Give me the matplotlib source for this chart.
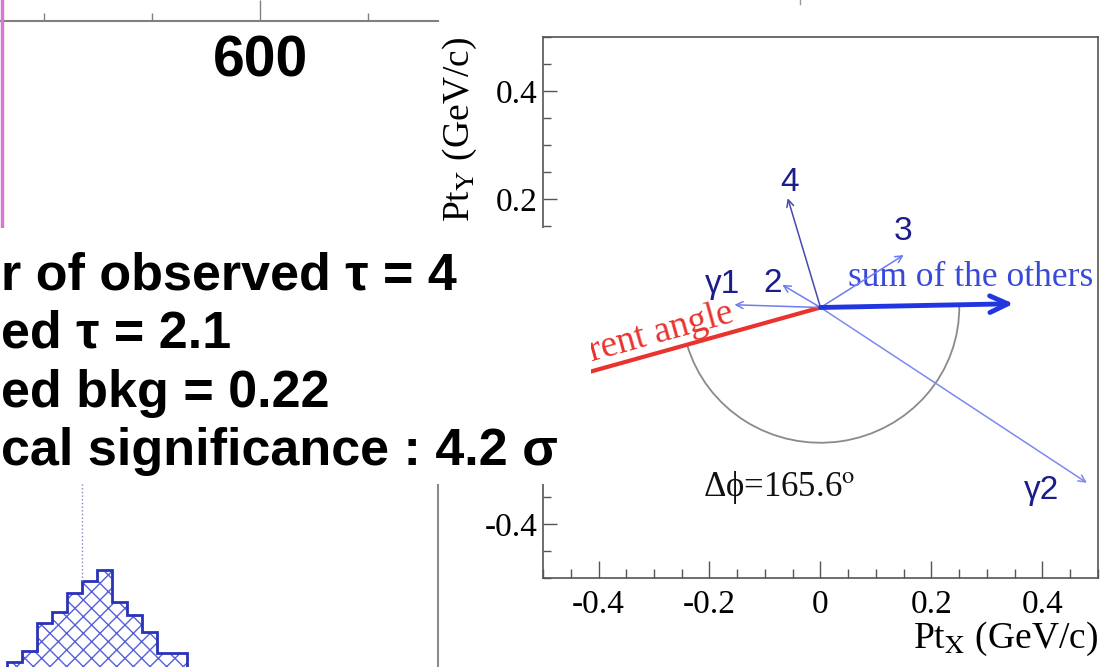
import numpy as np
import matplotlib
matplotlib.use("Agg")
import matplotlib.pyplot as plt
from matplotlib.patches import Rectangle, Arc
from matplotlib.lines import Line2D
from matplotlib.ticker import MultipleLocator, FuncFormatter

W, H = 1103, 667

plt.rcParams['axes.unicode_minus'] = False
plt.rcParams['mathtext.fontset'] = 'stix'
plt.rcParams['hatch.linewidth'] = 1.0

# top-left axis fragment (only the bottom axis line is in view)
TOP_AXIS_RANGE = (479.6, 682.4)

# text block
STAT_LINES = ["r of observed \u03c4 = 4",
              "ed \u03c4 = 2.1",
              "ed bkg = 0.22",
              "cal significance : 4.2 \u03c3"]

# bottom-left histogram fragment
HIST_EDGES = [0, 1, 2, 3, 4, 5, 6, 7, 8, 9, 10, 11, 12]
HIST_COUNTS = [5, 16, 44, 55, 74, 86, 97, 65, 52, 35, 14, 14]
HIST_MARKER = 5

# event display, transverse momenta in GeV/c
TRACK_NAMES = ["\u03b31", "2", "4", "3", "\u03b32"]
TRACK_PX = [-0.155, -0.069, -0.059, 0.150, 0.480]
TRACK_PY = [0.005, 0.042, 0.202, 0.097, -0.324]
SUM_OTHERS = (0.348, 0.007)
MISSING = (-0.50, -0.143)
DPHI = 165.6
ARC_R = 0.25
# tick values whose labels are not hidden under the text block
Y_LABELLED = [0.4, 0.2, -0.4]

# where the track names sit (data coords)
NAME_X = [-0.177, -0.086, -0.055, 0.149, 0.399]
NAME_Y = [0.043, 0.045, 0.231, 0.140, -0.339]


def fx(px):
    return px / W


def fy(py):
    return 1 - py / H


fig = plt.figure(figsize=(W / 100, H / 100), dpi=100)

# ---- top-left axis fragment
ax1 = fig.add_axes([0, fy(21), fx(438), 0.6])
ax1.set_xlim(*TOP_AXIS_RANGE)
ax1.set_ylim(0, 1)
for s in ["top", "left", "right"]:
    ax1.spines[s].set_visible(False)
ax1.spines["bottom"].set_color("#808080")
ax1.spines["bottom"].set_linewidth(1.5)
ax1.xaxis.set_major_locator(MultipleLocator(200))
ax1.xaxis.set_minor_locator(MultipleLocator(50))
ax1.set_yticks([])
ax1.tick_params(axis="x", which="major", direction="in", length=15, width=1,
                color="#808080", pad=10, labelsize=41)
ax1.tick_params(axis="x", which="minor", direction="in", length=6, width=1,
                color="#808080")
for lab in ax1.get_xticklabels():
    lab.set_fontfamily("Liberation Sans")
    lab.set_fontweight("bold")

# pink line on the left edge and a stray tick at the top
fig.add_artist(Line2D([fx(1.5), fx(1.5)], [1, fy(240)], transform=fig.transFigure,
                      color="#d47ad4", lw=2.5, zorder=1))
fig.add_artist(Line2D([fx(800), fx(800)], [1, fy(4)], transform=fig.transFigure,
                      color="#999999", lw=1, zorder=1))

# ---- event display
ax = fig.add_axes([fx(543), fy(578), fx(1098) - fx(543), fy(37) - fy(578)])
ax.set_xlim(-0.5, 0.5)
ax.set_ylim(-0.5, 0.5)
for s in ax.spines.values():
    s.set_color("#555555")
    s.set_linewidth(1.2)
ax.xaxis.set_major_locator(MultipleLocator(0.2))
ax.xaxis.set_minor_locator(MultipleLocator(0.05))
ax.yaxis.set_major_locator(MultipleLocator(0.2))
ax.yaxis.set_minor_locator(MultipleLocator(0.05))
ax.xaxis.set_major_formatter(FuncFormatter(lambda v, p: "%g" % round(v, 3)))
ax.yaxis.set_major_formatter(FuncFormatter(
    lambda v, p: "%g" % round(v, 3) if any(abs(v - t) < 1e-6 for t in Y_LABELLED) else ""))
ax.tick_params(which="both", direction="in", color="#555555", width=1,
               top=False, right=False, labelsize=24)
ax.tick_params(axis="x", which="major", length=12, pad=8)
ax.tick_params(axis="x", which="minor", length=6.5)
ax.tick_params(axis="y", which="major", length=10, pad=4)
ax.tick_params(axis="y", which="minor", length=6)
for lab in ax.get_xticklabels() + ax.get_yticklabels():
    lab.set_fontfamily("Liberation Serif")

ax.set_xlabel(r"Pt$_{\rm X}$ (GeV/c)", loc="right", fontsize=27,
              family="Liberation Serif", labelpad=0)
ax.set_ylabel(r"Pt$_{\rm Y}$ (GeV/c)", loc="top", fontsize=27,
              family="Liberation Serif", labelpad=4)

# missing-pt direction
ax.plot([0, MISSING[0]], [0, MISSING[1]], color="#e8332f", lw=3, zorder=3)
ax.text(-0.154, -0.026, "rent angle", color="#e8332f", fontsize=27,
        family="Liberation Serif", rotation=15.5, rotation_mode="anchor",
        ha="right", va="baseline", zorder=3)

# delta-phi arc
th1 = np.degrees(np.arctan2(MISSING[1], MISSING[0])) % 360
th2 = 360 + np.degrees(np.arctan2(SUM_OTHERS[1], SUM_OTHERS[0]))
ax.add_patch(Arc((0, 0), 2 * ARC_R, 2 * ARC_R, theta1=th1, theta2=th2,
                 color="#8a8a8a", lw=1.3, zorder=2))
ax.text(-0.212, -0.332, "\u0394\u03d5=%.1f$^{\\rm o}$" % DPHI, fontsize=25,
        family=["Liberation Serif", "DejaVu Serif"], ha="left", va="center",
        color="#111111")

# tracks
arrow_cols = ["#6f7cf0", "#6f7cf0", "#4848b0", "#6f7cf0", "#7f88f0"]
for i in range(len(TRACK_NAMES)):
    ax.annotate("", xy=(TRACK_PX[i], TRACK_PY[i]), xytext=(0, 0),
                arrowprops=dict(arrowstyle="->,head_length=0.5,head_width=0.25",
                                color=arrow_cols[i], lw=1.1,
                                shrinkA=0, shrinkB=0), zorder=4)
    ax.text(NAME_X[i], NAME_Y[i], TRACK_NAMES[i], color="#1c1c8a",
            fontsize=24, family="Liberation Sans", ha="center", va="center")

ax.annotate("", xy=SUM_OTHERS, xytext=(0, 0),
            arrowprops=dict(arrowstyle="->,head_length=1.3,head_width=0.6",
                            color="#2236e0", lw=3.5, shrinkA=0, shrinkB=0),
            zorder=5)
ax.text(0.05, 0.055, "sum of the others", color="#3a4ad8", fontsize=25.5,
        family="Liberation Serif", ha="left", va="center", clip_on=False)

# ---- bottom-left histogram fragment
ax3 = fig.add_axes([0, 0, fx(438), fy(470)])
ax3.set_xlim(-7 / 15, 431 / 15)
ax3.set_ylim(0, 197)
for s in ["top", "left", "bottom"]:
    ax3.spines[s].set_visible(False)
ax3.spines["right"].set_color("#8c8c8c")
ax3.spines["right"].set_linewidth(1.5)
ax3.set_xticks([])
ax3.set_yticks([])
ax3.stairs(HIST_COUNTS, HIST_EDGES, fill=True, hatch="xx", facecolor="white",
           edgecolor="#5560d8", lw=0)
ax3.stairs(HIST_COUNTS, HIST_EDGES, baseline=0, color="#2a32b8", lw=2)
ax3.vlines(HIST_EDGES[HIST_MARKER], HIST_COUNTS[HIST_MARKER], 197,
           colors="#8088c8", linestyles=":", lw=1)

# ---- white text box on top
fig.add_artist(Rectangle((0, fy(484)), fx(591), fy(228) - fy(484),
                         transform=fig.transFigure, facecolor="white",
                         edgecolor="none", zorder=5))
baselines = [290, 348, 407, 465]
for line, b in zip(STAT_LINES, baselines):
    fig.text(fx(1), fy(b), line, fontsize=37.5, fontweight="bold",
             family=["Liberation Sans", "DejaVu Sans"], ha="left",
             va="baseline", color="black", zorder=6)

fig.savefig("out.png", dpi=100)
